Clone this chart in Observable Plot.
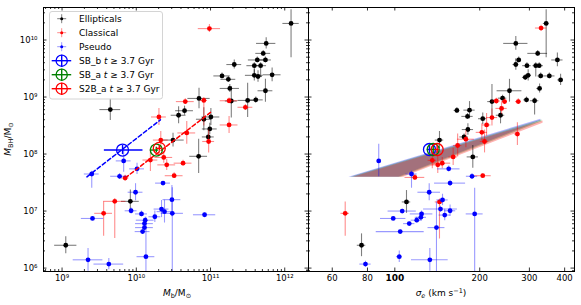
<!DOCTYPE html>
<html><head><meta charset="utf-8">
<script src="https://cdn.jsdelivr.net/npm/d3@7"></script>
<script src="https://cdn.jsdelivr.net/npm/@observablehq/plot@0.6"></script>
<style>
body{margin:0;background:#fff;font-family:"DejaVu Sans",sans-serif;}
#wrap{position:relative;width:581px;height:305px;overflow:hidden;background:#fff;}
#left{position:absolute;left:0;top:0;}
#right{position:absolute;left:308px;top:0;}
.lbl{position:absolute;font-size:9px;white-space:nowrap;line-height:1;color:#000;}
.sb{font-size:6.5px;position:relative;top:2px;}
.sp{font-size:6.5px;position:relative;top:-3.5px;}
#legend{position:absolute;left:0;top:0;}
</style></head><body>
<div id="wrap">
  <div id="left"></div>
  <div id="right"></div>
  <div class="lbl" style="left:8px;top:139px;transform:translate(-50%,-50%) rotate(-90deg);"><i>M</i><span class="sb">BH</span>/M<span class="sb">⊙</span></div>
  <div class="lbl" style="left:177px;top:293px;transform:translate(-50%,-50%);"><i>M</i><span class="sb">b</span>/M<span class="sb">⊙</span></div>
  <div class="lbl" style="left:441px;top:293px;transform:translate(-50%,-50%);"><i>σ</i><span class="sb"><i>e</i></span> (km s<span class="sp">−1</span>)</div>
  <svg id="legend" width="581" height="305"></svg>
</div>
<script>
// ---------- data ----------
// left panel: [log Mb, log MBH, ±dex Mb, -dex MBH, +dex MBH]
const ellipticalsLeft = [
 [9.65,8.78,0.14,0.19,0.19],[12.085,10.29,0.11,0.6,0.24],[11.75,9.94,0.13,0.1,0.1],
 [11.71,9.765,0.1,0.05,0.05],[11.63,9.65,0.12,0.05,0.05],[11.74,9.65,0.08,0.05,0.05],
 [11.32,9.57,0.1,0.08,0.08],[11.59,9.55,0.1,0.2,0.05],[11.675,9.55,0.08,0.2,0.05],
 [11.155,9.37,0.11,0.05,0.05],[11.24,9.31,0.1,0.05,0.05],[11.59,9.38,0.12,0.1,0.1],
 [11.64,9.36,0.06,0.1,0.1],[11.83,9.39,0.12,0.12,0.12],[11.26,9.15,0.13,0.07,0.07],
 [11.74,9.11,0.1,0.2,0.2],[11.50,8.94,0.13,0.3,0.3],[11.61,8.95,0.1,0.05,0.05],
 [11.28,8.93,0.08,0.3,0.25],[10.845,8.975,0.15,0.18,0.18],[10.65,8.76,0.12,0.08,0.08],
 [10.57,8.68,0.1,0.15,0.15],[11.005,8.65,0.12,0.15,0.15],[10.91,8.61,0.1,0.2,0.2],
 [10.99,8.44,0.1,0.1,0.1],[10.495,8.245,0.15,0.12,0.12],[10.97,8.30,0.08,0.1,0.1],
 [10.84,7.96,0.12,0.3,0.3],[9.92,7.17,0.12,0.2,0.2],[9.05,6.40,0.15,0.15,0.15]
];
const classicalLeft = [
 [10.985,10.20,0.15,0.07,0.07],[10.66,8.92,0.12,0.05,0.05],[10.91,8.94,0.05,0.45,0.05],
 [11.25,8.935,0.12,0.05,0.05],[11.47,8.82,0.1,0.05,0.05],[11.25,8.51,0.12,0.15,0.15],
 [10.305,8.65,0.1,0.15,0.15],[10.68,8.37,0.12,0.2,0.2],[10.33,8.245,0.1,0.15,0.15],
 [10.975,8.22,0.08,0.2,0.2],[10.19,7.895,0.1,0.2,0.2],[10.37,7.94,0.12,0.1,0.1],
 [10.41,7.81,0.12,0.1,0.1],[10.63,7.84,0.12,0.05,0.05],[10.51,7.62,0.12,0.05,0.05],
 [9.85,7.58,0.05,0.05,0.05],[9.71,7.17,0.15,0.65,0.05],[9.56,6.96,0.12,0.4,0.2]
];
const pseudoLeft = [
 [9.83,7.88,0.1,0.2,0.2],[9.775,7.61,0.12,0.05,0.05],[10.01,7.74,0.1,0.1,0.1],
 [9.40,7.65,0.1,0.25,0.05],[10.36,7.49,0.1,0.03,0.03],[9.99,7.33,0.1,0.15,0.15],
 [10.48,7.20,0.12,0.3,0.25],[9.93,7.005,0.08,0.05,0.05],[10.07,6.95,0.08,0.05,0.05],
 [10.34,7.035,0.1,0.15,0.15],[10.38,6.99,0.1,0.2,0.2],[10.485,6.96,0.15,2,0.45],
 [10.25,6.90,0.08,0.1,0.1],[10.12,6.84,0.12,0.05,0.05],[10.11,6.78,0.12,0.05,0.05],
 [10.11,6.71,0.12,0.05,0.05],[10.085,6.64,0.1,0.05,0.05],[9.41,6.87,0.15,0.03,0.03],
 [10.92,6.935,0.15,0.03,0.03],[10.13,6.20,0.12,1,0.69],[9.35,6.145,0.2,0.2,0.2],
 [9.63,6.07,0.2,0.1,0.1]
];
// right panel: [sigma_e km/s, log MBH, ±dex sigma, -dex MBH, +dex MBH]
const ellipticalsRight = [
 [344,10.29,0.01,0.6,0.24],[268.5,9.94,0.043,0.12,0.12],[321,9.765,0.035,0.05,0.05],
 [275,9.65,0.01,0.05,0.05],[268.5,9.57,0.01,0.1,0.1],[294,9.55,0.015,0.05,0.05],
 [316,9.55,0.01,0.2,0.05],[325,9.55,0.015,0.05,0.05],[377,9.65,0.02,0.12,0.12],
 [297,9.38,0.01,0.1,0.1],[290,9.345,0.01,0.05,0.05],[329,9.37,0.01,0.05,0.05],
 [353,9.37,0.02,0.05,0.05],[387,9.30,0.01,0.1,0.1],[326,9.15,0.01,0.08,0.08],
 [255,9.11,0.044,0.2,0.2],[241,8.98,0.015,0.05,0.05],[221,8.92,0.015,0.3,0.3],
 [293,8.95,0.01,0.05,0.05],[313,8.935,0.015,0.25,0.05],[166,8.765,0.01,0.05,0.05],
 [184,8.77,0.02,0.15,0.15],[181,8.66,0.02,0.05,0.05],[205,8.62,0.015,0.1,0.1],
 [237,8.68,0.015,0.15,0.15],[181.6,8.43,0.02,0.1,0.1],[176,8.30,0.015,0.05,0.05],
 [144,8.245,0.015,0.15,0.15],[189,7.95,0.02,0.2,0.2],[110,7.16,0.015,0.2,0.2],
 [76.2,6.40,0.015,0.2,0.2]
];
const classicalRight = [
 [330,10.21,0.02,0.05,0.05],[229,8.93,0.015,0.05,0.05],[245,8.92,0.01,0.05,0.05],
 [274,8.92,0.01,0.05,0.05],[239,8.80,0.02,0.1,0.1],[221,8.64,0.02,0.15,0.15],
 [211.5,8.51,0.015,0.2,0.2],[203.5,8.38,0.02,0.15,0.15],[272,8.35,0.01,0.2,0.2],
 [178.6,8.26,0.03,0.15,0.15],[167,8.15,0.015,0.2,0.2],[208,8.22,0.015,0.2,0.2],
 [161,7.95,0.015,0.15,0.15],[135.8,7.89,0.015,0.15,0.15],[147.3,7.84,0.03,0.1,0.1],
 [142,7.81,0.02,0.15,0.15],[117.8,7.59,0.035,0.05,0.05],[205,7.62,0.03,0.03,0.03],
 [144,7.16,0.015,0.65,0.05],[66.7,6.96,0.015,0.4,0.2]
];
const pseudoRight = [
 [87.7,7.88,0.005,0.28,0.29],[114.6,7.65,0.02,0.25,0.05],[155.3,7.74,0.04,0.05,0.05],
 [187.8,7.61,0.02,0.05,0.05],[157,7.49,0.055,0.05,0.05],[132.4,7.33,0.04,0.15,0.15],
 [147.6,7.195,0.02,0.1,0.1],[145.2,7.035,0.06,0.05,0.05],[157,7.005,0.02,0.1,0.1],
 [150.3,6.93,0.02,0.1,0.1],[191.9,6.95,0.03,2,0.45],[124.4,6.95,0.04,0.05,0.05],
 [123.7,6.89,0.02,0.05,0.05],[119.6,6.84,0.02,0.05,0.05],[112.5,6.78,0.02,0.03,0.03],
 [98.7,6.87,0.045,0.03,0.03],[106.2,7.00,0.05,0.03,0.03],[104.5,6.64,0.085,0.03,0.03],
 [140.5,6.71,0.03,2,0.45],[133.1,6.145,0.065,0.2,0.2],[103.7,6.20,0.01,0.1,0.1],
 [78.7,6.07,0.02,0.05,0.05]
];
// model points: [x, log MBH, -dex x, +dex x, -dex MBH, +dex MBH] (x = log Mb left, sigma right)
const modelNames = ["SB_b", "SB_a", "S2B_a"];
const modelColors = ["blue", "green", "red"];
const modelsLeft = [[9.815,8.07,0.245,0.275,0.08,0.08],[10.27,8.07,0.08,0.03,0.05,0.05],[10.31,8.10,0.04,0.04,0.05,0.05]];
const modelsRight = [[132.7,8.08,0.008,0.008,0.07,0.07],[136.8,8.08,0.008,0.008,0.07,0.07],[141.3,8.08,0.008,0.008,0.07,0.07]];
// dashed relations, left panel: [log Mb, log MBH]
const lineSBbLeft = [[9.335,7.60],[10.325,8.60]];
const lineS2BaLeft = [[9.85,7.58],[11.0,8.73]];
// shaded bands, right panel: [sigma, log MBH]
const bandSBb = [[68.5,7.60],[328,8.62],[328,8.59],[103,7.60]];
const bandSBa = [[69.6,7.60],[331,8.605],[331,8.575],[104.8,7.60]];
const bandS2Ba = [[71,7.60],[334,8.59],[334,8.55],[107,7.60]];
// axes
const xTicksLeft = [1e9, 1e10, 1e11, 1e12];
const yTicks = [1e6, 1e7, 1e8, 1e9, 1e10];
const sigmaTicks = [60, 80, 100, 200, 300, 400];
const sigmaBold = [100];

// ---------- layout ----------
const H = 305, mT = 7, mB = 34;
const W1 = 308, mL = 43, W2 = 273, mR = 7;
const ih = H - mT - mB, iw1 = W1 - mL, iw2 = W2 - mR;
const yLogDom = [5.94, 10.57];
const xLogDomL = [8.75, 12.32];
const xLogDomR = [1.694, 2.637];
const clampL = (v, a, b) => Math.max(a, Math.min(b, v));

const SUP = {"0":"⁰","1":"¹","2":"²","3":"³","4":"⁴","5":"⁵","6":"⁶","7":"⁷","8":"⁸","9":"⁹","-":"⁻"};
const pow10 = d => "10" + [...String(Math.round(Math.log10(d)))].map(c => SUP[c]).join("");

function minors(lo, hi) {
  const out = [];
  for (let k = Math.floor(lo); k <= Math.ceil(hi); k++)
    for (let m = 2; m <= 9; m++) { const v = m * 10 ** k; if (Math.log10(v) > lo && Math.log10(v) < hi) out.push(v); }
  return out;
}

function rowsLeft(arr) {
  return arr.map(([x, y, xe, ylo, yhi]) => ({
    x: 10 ** x, y: 10 ** y,
    x1: 10 ** clampL(x - xe, ...xLogDomL), x2: 10 ** clampL(x + xe, ...xLogDomL),
    y1: 10 ** clampL(y - ylo, ...yLogDom), y2: 10 ** clampL(y + yhi, ...yLogDom)
  }));
}
function rowsRight(arr) {
  return arr.map(([s, y, se, ylo, yhi]) => ({
    x: s, y: 10 ** y,
    x1: 10 ** clampL(Math.log10(s) - se, ...xLogDomR), x2: 10 ** clampL(Math.log10(s) + se, ...xLogDomR),
    y1: 10 ** clampL(y - ylo, ...yLogDom), y2: 10 ** clampL(y + yhi, ...yLogDom)
  }));
}
function series(rows, color, barColor) {
  return [
    Plot.ruleY(rows, {y: "y", x1: "x1", x2: "x2", stroke: barColor, strokeWidth: 1.1}),
    Plot.ruleX(rows, {x: "x", y1: "y1", y2: "y2", stroke: barColor, strokeWidth: 1.1}),
    Plot.dot(rows, {x: "x", y: "y", r: 2.4, fill: color, stroke: "none"})
  ];
}
function models(arr, toX) {
  const rows = arr.map(([x, y, xlo, xhi, ylo, yhi], i) => ({
    x: toX(x, 0), y: 10 ** y, x1: toX(x, -xlo), x2: toX(x, xhi),
    y1: 10 ** (y - ylo), y2: 10 ** (y + yhi), c: modelColors[i]
  }));
  return rows.flatMap(r => [
    Plot.ruleY([r], {y: "y", x1: "x1", x2: "x2", stroke: r.c, strokeWidth: 1.4}),
    Plot.ruleX([r], {x: "x", y1: "y1", y2: "y2", stroke: r.c, strokeWidth: 1.4}),
    Plot.dot([r], {x: "x", y: "y", r: 6, stroke: r.c, fill: "none", strokeWidth: 1.3})
  ]);
}
function tickMarks(xMaj, xMin, yMaj, yMin, iw) {
  const L = 3.5, l = 2, sw = 0.8;
  return [
    Plot.ruleX(xMaj, {x: d => d, insetTop: ih - L, strokeWidth: sw}),
    Plot.ruleX(xMaj, {x: d => d, insetBottom: ih - L, strokeWidth: sw}),
    Plot.ruleX(xMin, {x: d => d, insetTop: ih - l, strokeWidth: sw}),
    Plot.ruleX(xMin, {x: d => d, insetBottom: ih - l, strokeWidth: sw}),
    Plot.ruleY(yMaj, {y: d => d, insetRight: iw - L, strokeWidth: sw}),
    Plot.ruleY(yMaj, {y: d => d, insetLeft: iw - L, strokeWidth: sw}),
    Plot.ruleY(yMin, {y: d => d, insetRight: iw - l, strokeWidth: sw}),
    Plot.ruleY(yMin, {y: d => d, insetLeft: iw - l, strokeWidth: sw})
  ];
}
const yMinor = minors(...yLogDom);
const barK = "rgba(0,0,0,0.5)", barR = "rgba(255,0,0,0.45)", barB = "rgba(0,0,255,0.4)";
const styleObj = {fontFamily: "DejaVu Sans", fontSize: "8.5px", background: "white", color: "black"};

const left = Plot.plot({
  width: W1, height: H, marginLeft: mL, marginRight: 0, marginTop: mT, marginBottom: mB,
  style: styleObj,
  x: {type: "log", domain: xLogDomL.map(v => 10 ** v)},
  y: {type: "log", domain: yLogDom.map(v => 10 ** v)},
  marks: [
    ...series(rowsLeft(ellipticalsLeft), "black", barK),
    ...series(rowsLeft(classicalLeft), "red", barR),
    ...series(rowsLeft(pseudoLeft), "blue", barB),
    Plot.line(lineSBbLeft.map(([x, y]) => [10 ** x, 10 ** y]), {stroke: "blue", strokeWidth: 1.5, strokeDasharray: "4 2.5"}),
    Plot.line(lineS2BaLeft.map(([x, y]) => [10 ** x, 10 ** y]), {stroke: "red", strokeWidth: 1.5, strokeDasharray: "4 2.5"}),
    ...models(modelsLeft, (x, d) => 10 ** (x + d)),
    ...tickMarks(xTicksLeft, minors(...xLogDomL), yTicks, yMinor, iw1),
    Plot.frame({stroke: "black", strokeWidth: 1}),
    Plot.axisX({ticks: xTicksLeft, tickFormat: pow10, tickSize: 0, tickPadding: 3.5, label: null, fontSize: 8.5}),
    Plot.axisY({ticks: yTicks, tickFormat: pow10, tickSize: 0, tickPadding: 6, label: null, fontSize: 8.5})
  ]
});
document.getElementById("left").appendChild(left);

const band = (pts, c) => Plot.line(pts.map(([s, y]) => [s, 10 ** y]), {curve: "linear-closed", fill: c, fillOpacity: 0.3, stroke: "none"});
const right = Plot.plot({
  width: W2, height: H, marginLeft: 0, marginRight: mR, marginTop: mT, marginBottom: mB,
  style: styleObj,
  x: {type: "log", domain: xLogDomR.map(v => 10 ** v)},
  y: {type: "log", domain: yLogDom.map(v => 10 ** v), axis: null},
  marks: [
    band(bandSBb, "blue"), band(bandSBa, "green"), band(bandS2Ba, "red"),
    ...series(rowsRight(ellipticalsRight), "black", barK),
    ...series(rowsRight(classicalRight), "red", barR),
    ...series(rowsRight(pseudoRight), "blue", barB),
    ...models(modelsRight, (s, d) => 10 ** (Math.log10(s) + d)),
    ...tickMarks(sigmaTicks, [], yTicks, yMinor, iw2),
    Plot.frame({stroke: "black", strokeWidth: 1}),
    Plot.axisX({ticks: sigmaTicks.filter(d => !sigmaBold.includes(d)), tickFormat: d => String(d), tickSize: 0, tickPadding: 3.5, label: null, fontSize: 8.5}),
    Plot.axisX({ticks: sigmaBold, tickFormat: d => String(d), tickSize: 0, tickPadding: 3.5, label: null, fontSize: 9, fontWeight: "bold"})
  ]
});
document.getElementById("right").appendChild(right);

// ---------- legend ----------
const legendEntries = [
  {label: "Ellipticals", color: "black", bar: barK, kind: "pt"},
  {label: "Classical", color: "red", bar: barR, kind: "pt"},
  {label: "Pseudo", color: "blue", bar: barB, kind: "pt"},
  ...modelNames.map((n, i) => ({label: n, color: modelColors[i], kind: "model"}))
];
const lg = d3.select("#legend");
lg.append("rect").attr("x", 49.5).attr("y", 11.5).attr("width", 113).attr("height", 87.5)
  .attr("rx", 2.5).attr("fill", "rgba(255,255,255,0.85)").attr("stroke", "#d4d4d4").attr("stroke-width", 1);
legendEntries.forEach((e, i) => {
  const cy = 18.7 + i * 14, cx = 61.7;
  const g = lg.append("g");
  if (e.kind === "pt") {
    g.append("line").attr("x1", cx - 4.5).attr("x2", cx + 4.5).attr("y1", cy).attr("y2", cy).attr("stroke", e.bar);
    g.append("line").attr("x1", cx).attr("x2", cx).attr("y1", cy - 4.5).attr("y2", cy + 4.5).attr("stroke", e.bar);
    g.append("circle").attr("cx", cx).attr("cy", cy).attr("r", 1.5).attr("fill", e.color);
  } else {
    g.append("line").attr("x1", cx - 10).attr("x2", cx + 9.5).attr("y1", cy).attr("y2", cy).attr("stroke", e.color).attr("stroke-width", 1.4);
    g.append("line").attr("x1", cx).attr("x2", cx).attr("y1", cy - 6).attr("y2", cy + 6).attr("stroke", e.color).attr("stroke-width", 1.4);
    g.append("circle").attr("cx", cx).attr("cy", cy).attr("r", 5.6).attr("fill", "none").attr("stroke", e.color).attr("stroke-width", 1.3);
  }
  const t = g.append("text").attr("x", 79).attr("y", cy + 3.2).attr("font-size", 9).attr("font-family", "DejaVu Sans").attr("fill", "black");
  if (e.kind === "pt") t.text(e.label);
  else {
    t.append("tspan").text(e.label + " ");
    t.append("tspan").attr("font-style", "italic").text("t");
    t.append("tspan").text(" ≥ 3.7 Gyr");
  }
});
</script>
</body></html>
